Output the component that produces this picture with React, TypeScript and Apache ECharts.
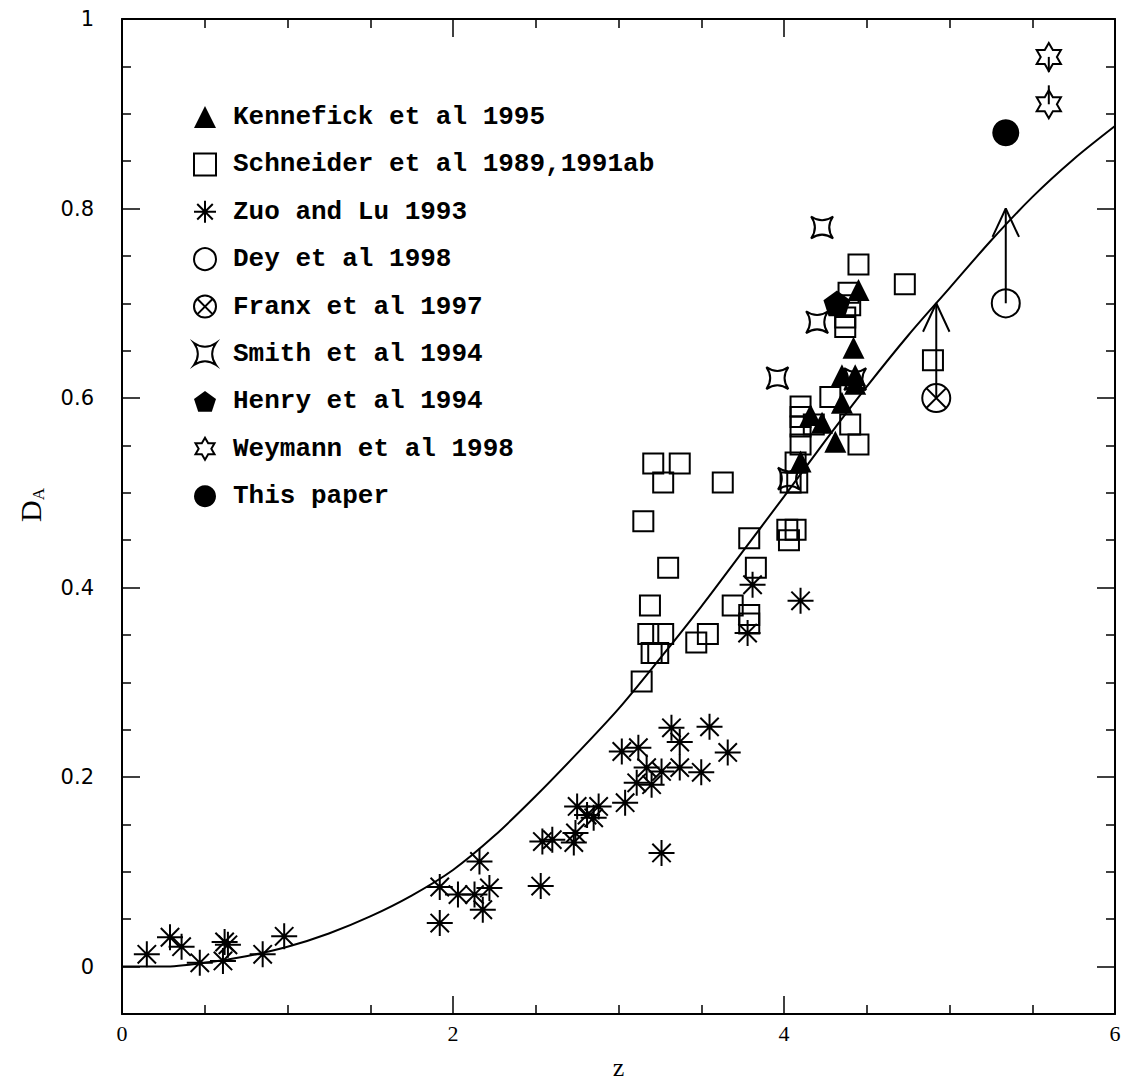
import React, { useEffect, useRef } from "react";
import * as echarts from "echarts";

// ---- data ----
const curveZ = [0, 0.25, 0.5, 0.75, 1, 1.25, 1.5, 1.75, 2, 2.25, 2.5, 2.75, 3, 3.25, 3.5, 3.75, 4, 4.25, 4.5, 4.75, 5, 5.25, 5.5, 5.75, 6];
const curveD = [0, 0, 0.004, 0.011, 0.021, 0.035, 0.053, 0.075, 0.102, 0.138, 0.18, 0.225, 0.272, 0.325, 0.38, 0.438, 0.496, 0.555, 0.612, 0.666, 0.716, 0.766, 0.812, 0.852, 0.887];

const kenZ = [4.45, 4.42, 4.35, 4.43, 4.43, 4.35, 4.16, 4.23, 4.31, 4.1];
const kenD = [0.714, 0.653, 0.624, 0.624, 0.615, 0.595, 0.582, 0.574, 0.554, 0.533];

const schZ = [3.21, 3.37, 3.27, 3.63, 3.15, 3.79, 3.3, 3.83, 3.19, 3.69, 3.79, 3.79, 3.18, 3.27, 3.54, 3.47, 3.2, 3.24, 3.14,
  4.04, 4.08, 4.02, 4.07, 4.03, 4.28, 4.1, 4.1, 4.1, 4.18, 4.4, 4.45, 4.1, 4.07, 4.45, 4.73, 4.39, 4.4, 4.37, 4.37, 4.9];
const schD = [0.531, 0.531, 0.511, 0.511, 0.47, 0.452, 0.421, 0.421, 0.381, 0.381, 0.371, 0.362, 0.351, 0.351, 0.351, 0.342, 0.331, 0.331, 0.301,
  0.511, 0.511, 0.461, 0.461, 0.45, 0.601, 0.591, 0.58, 0.57, 0.572, 0.572, 0.551, 0.551, 0.532, 0.741, 0.72, 0.711, 0.698, 0.685, 0.675, 0.64];

const zuoZ = [0.15, 0.29, 0.36, 0.47, 0.61, 0.62, 0.64, 0.85, 0.98, 1.92, 1.92, 2.03, 2.13, 2.16, 2.18, 2.22,
  2.53, 2.54, 2.6, 2.73, 2.74, 2.75, 2.81, 2.85, 2.88, 3.04, 3.11, 3.2, 3.02, 3.12, 3.17, 3.26, 3.37, 3.5, 3.32, 3.37, 3.55, 3.66, 3.26,
  3.81, 4.1, 3.78];
const zuoD = [0.013, 0.031, 0.021, 0.004, 0.006, 0.026, 0.023, 0.013, 0.032, 0.084, 0.046, 0.076, 0.076, 0.111, 0.06, 0.083,
  0.085, 0.132, 0.134, 0.131, 0.141, 0.169, 0.16, 0.157, 0.169, 0.173, 0.194, 0.192, 0.227, 0.231, 0.21, 0.206, 0.21, 0.205, 0.252, 0.237, 0.253, 0.226, 0.12,
  0.403, 0.386, 0.352];

const deyZ = [5.34];
const deyD = [0.7];
const franxZ = [4.92];
const franxD = [0.6];
const smithZ = [4.23, 4.2, 3.96, 4.43, 4.03];
const smithD = [0.78, 0.68, 0.621, 0.62, 0.515];
const henryZ = [4.32];
const henryD = [0.7];
const weyZ = [5.6, 5.6];
const weyD = [0.96, 0.91];
const thisZ = [5.34];
const thisD = [0.88];

// lower-limit arrows (start z, start D, length)
const arrowZ = [5.34, 4.92];
const arrowD = [0.7, 0.6];
const arrowLen = 0.1;

const yMajor = [0, 0.2, 0.4, 0.6, 0.8, 1];
const yMinor = [-0.05, 0.05, 0.1, 0.15, 0.25, 0.3, 0.35, 0.45, 0.5, 0.55, 0.65, 0.7, 0.75, 0.85, 0.9, 0.95];

const names = [
  "Kennefick et al 1995",
  "Schneider et al 1989,1991ab",
  "Zuo and Lu 1993",
  "Dey et al 1998",
  "Franx et al 1997",
  "Smith et al 1994",
  "Henry et al 1994",
  "Weymann et al 1998",
  "This paper",
];

// ---- symbols ----
const SYM_AST = "path://M0,-10L0,10M-10,0L10,0M-7.07,-7.07L7.07,7.07M-7.07,7.07L7.07,-7.07";
const SYM_FRANX = "path://M10,0A10,10,0,1,1,-10,0A10,10,0,1,1,10,0ZM-7.07,-7.07L7.07,7.07M-7.07,7.07L7.07,-7.07";
const SYM_SMITH = "path://M-10,-10Q0,-3,10,-10Q3,0,10,10Q0,3,-10,10Q-3,0,-10,-10Z";
const SYM_PENT = "path://M0,-10L9.51,-3.09L5.88,8.09L-5.88,8.09L-9.51,-3.09Z";
const SYM_STAR6 = "path://M0,-10L2.89,-5L8.66,-5L5.77,0L8.66,5L2.89,5L0,10L-2.89,5L-8.66,5L-5.77,0L-8.66,-5L-2.89,-5Z";

const pts = (xs: number[], ys: number[]) => xs.map((x, i) => [x, ys[i]]);

const openStyle = { color: "rgba(0,0,0,0)", borderColor: "#000", borderWidth: 2, opacity: 1 };
const fillStyle = { color: "#000", borderColor: "#000", borderWidth: 0, opacity: 1 };

export default function App() {
  const ref = useRef<HTMLDivElement>(null);
  useEffect(() => {
    if (!ref.current) return;
    const chart = echarts.init(ref.current, undefined, { renderer: "svg" });

    const scatter = (name: string, data: number[][], symbol: string, size: number, style: any) => ({
      name,
      type: "scatter",
      data,
      symbol,
      symbolSize: size,
      symbolKeepAspect: true,
      itemStyle: style,
      color: "#000",
      z: 3,
    });

    const seg = (data: number[][]) => ({
      type: "line",
      data,
      symbol: "none",
      lineStyle: { color: "#000", width: 2 },
      silent: true,
      z: 2,
    });

    const arrowSeries: any[] = [];
    arrowZ.forEach((z, i) => {
      const d = arrowD[i];
      arrowSeries.push(seg([[z, d], [z, d + arrowLen]]));
      arrowSeries.push(seg([[z - 0.08, d + arrowLen - 0.03], [z, d + arrowLen], [z + 0.08, d + arrowLen - 0.03]]));
    });
    // short connectors between the two Weymann stars
    arrowSeries.push(seg([[weyZ[0], weyD[0]], [weyZ[0], 0.944]]));
    arrowSeries.push(seg([[weyZ[1], 0.93], [weyZ[1], weyD[1]]]));

    const yBase = {
      type: "value",
      min: -0.05,
      max: 1,
      splitLine: { show: false },
    };
    const lineSt = { color: "#000", width: 1.5 };

    chart.setOption({
      animation: false,
      backgroundColor: "#fff",
      grid: { left: 122, right: 12, top: 19, bottom: 70, containLabel: false, outerBoundsMode: "none" },
      legend: {
        orient: "vertical",
        left: 188,
        top: 99,
        itemWidth: 22,
        itemHeight: 22,
        itemGap: 21.4,
        data: [
          { name: names[0], icon: "triangle" },
          { name: names[1], icon: "rect" },
          { name: names[2], icon: SYM_AST },
          { name: names[3], icon: "circle" },
          { name: names[4], icon: SYM_FRANX },
          { name: names[5], icon: SYM_SMITH },
          { name: names[6], icon: SYM_PENT },
          { name: names[7], icon: SYM_STAR6 },
          { name: names[8], icon: "circle" },
        ],
        textStyle: {
          fontFamily: "Liberation Mono",
          fontWeight: "bold",
          fontSize: 26,
          color: "#000",
          lineHeight: 22,
          padding: [0, 0, 0, 12],
        },
        selectedMode: false,
      },
      xAxis: [
        {
          type: "value",
          min: 0,
          max: 6,
          interval: 2,
          position: "bottom",
          name: "z",
          nameLocation: "middle",
          nameGap: 42,
          nameTextStyle: { fontFamily: "Liberation Serif", fontSize: 26, lineHeight: 22, color: "#000" },
          axisLine: { show: true, onZero: false, lineStyle: { color: "#000", width: 2 } },
          axisTick: { inside: true, length: 18, lineStyle: lineSt },
          minorTick: { show: true, splitNumber: 4, length: 9, lineStyle: lineSt },
          axisLabel: { fontFamily: "Liberation Serif", fontSize: 22, color: "#000", margin: 8 },
          splitLine: { show: false },
          minorSplitLine: { show: false },
        },
        {
          type: "value",
          min: 0,
          max: 6,
          interval: 2,
          position: "top",
          axisLine: { show: true, onZero: false, lineStyle: { color: "#000", width: 2 } },
          axisTick: { inside: true, length: 18, lineStyle: lineSt },
          minorTick: { show: true, splitNumber: 4, length: 9, lineStyle: lineSt },
          axisLabel: { show: false },
          splitLine: { show: false },
        },
      ],
      yAxis: [
        {
          ...yBase,
          position: "left",
          axisLine: { show: true, onZero: false, lineStyle: { color: "#000", width: 2 } },
          axisTick: { inside: true, length: 18, customValues: yMajor, lineStyle: lineSt },
          axisLabel: {
            customValues: yMajor,
            fontFamily: "DejaVu Sans",
            fontSize: 21,
            color: "#000",
            margin: 28,
            formatter: (v: number) => String(Math.round(v * 10) / 10),
          },
        },
        {
          ...yBase,
          position: "left",
          axisLine: { show: false, onZero: false },
          axisTick: { inside: true, length: 9, customValues: yMinor, lineStyle: lineSt },
          axisLabel: { show: false },
        },
        {
          ...yBase,
          position: "right",
          axisLine: { show: true, onZero: false, lineStyle: { color: "#000", width: 2 } },
          axisTick: { inside: true, length: 18, customValues: yMajor, lineStyle: lineSt },
          axisLabel: { show: false },
        },
        {
          ...yBase,
          position: "right",
          axisLine: { show: false, onZero: false },
          axisTick: { inside: true, length: 9, customValues: yMinor, lineStyle: lineSt },
          axisLabel: { show: false },
        },
      ],
      graphic: [
        {
          type: "text",
          x: 30,
          y: 505,
          rotation: Math.PI / 2,
          style: {
            text: "{d|D}{s|A}",
            align: "center",
            verticalAlign: "middle",
            rich: {
              d: { fontFamily: "Liberation Serif", fontSize: 30, fill: "#000" },
              s: { fontFamily: "Liberation Serif", fontSize: 17, fill: "#000", padding: [16, 0, 0, 0] },
            },
          },
        },
      ],
      series: [
        {
          type: "line",
          data: pts(curveZ, curveD),
          smooth: 0.3,
          symbol: "none",
          lineStyle: { color: "#000", width: 2 },
          silent: true,
          z: 2,
        },
        ...arrowSeries,
        scatter(names[0], pts(kenZ, kenD), "triangle", 22, fillStyle),
        scatter(names[1], pts(schZ, schD), "rect", 20, openStyle),
        scatter(names[2], pts(zuoZ, zuoD), SYM_AST, 26, openStyle),
        scatter(names[3], pts(deyZ, deyD), "circle", 28, openStyle),
        scatter(names[4], pts(franxZ, franxD), SYM_FRANX, 28, openStyle),
        scatter(names[5], pts(smithZ, smithD), SYM_SMITH, 22, openStyle),
        scatter(names[6], pts(henryZ, henryD), SYM_PENT, 27, fillStyle),
        scatter(names[7], pts(weyZ, weyD), SYM_STAR6, 28, openStyle),
        scatter(names[8], pts(thisZ, thisD), "circle", 27, fillStyle),
      ],
    });
    return () => chart.dispose();
  }, []);
  return <div ref={ref} style={{ position: "fixed", left: 0, top: 0, width: 1127, height: 1084 }} />;
}
